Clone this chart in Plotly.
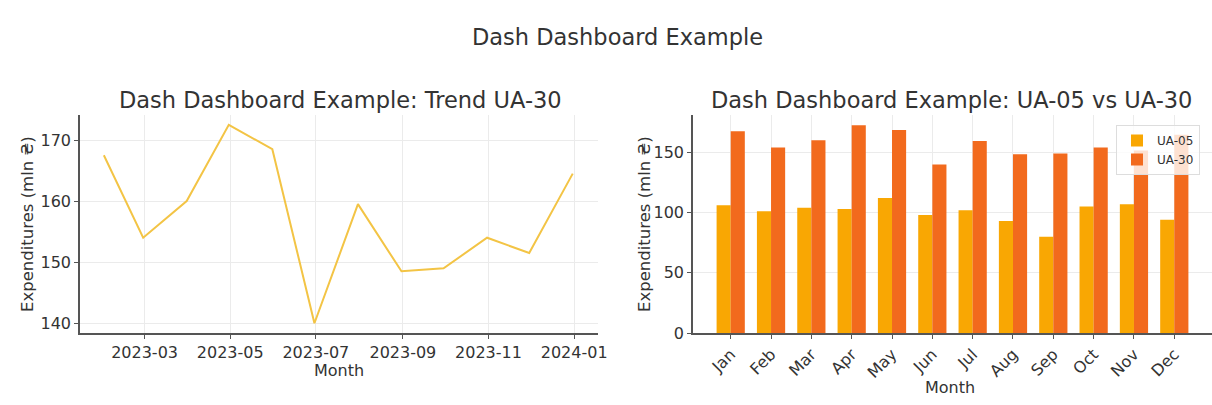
import plotly.graph_objects as go

# ---- data ----
months = ["Jan", "Feb", "Mar", "Apr", "May", "Jun", "Jul", "Aug", "Sep", "Oct", "Nov", "Dec"]
dates = ["2023-01-31", "2023-02-28", "2023-03-31", "2023-04-30", "2023-05-31", "2023-06-30",
         "2023-07-31", "2023-08-31", "2023-09-30", "2023-10-31", "2023-11-30", "2023-12-31"]
ua30 = [167.5, 154.0, 160.0, 172.5, 168.5, 140.0, 159.5, 148.5, 149.0, 154.0, 151.5, 164.5]
ua05 = [106, 101, 104, 103, 112, 98, 102, 93, 80, 105, 107, 94]
date_ticks = ["2023-03-01", "2023-05-01", "2023-07-01", "2023-09-01", "2023-11-01", "2024-01-01"]
line_yticks = [140, 150, 160, 170]
bar_yticks = [0, 50, 100, 150]

W, H = 1212, 405
FONT = "DejaVu Sans"
TXT = "#333333"
AX = "#555555"
GRID = "#ebebeb"

def px(x):
    return x / W

def py(y):
    return 1 - y / H

fig = go.Figure()

fig.add_trace(go.Scatter(
    x=dates, y=ua30, mode="lines", line=dict(color="#F3C445", width=2),
    xaxis="x", yaxis="y", showlegend=False, name="UA-30"))

fig.add_trace(go.Bar(x=months, y=ua05, name="UA-05", marker_color="#F9A703",
                     marker_line_width=0, xaxis="x2", yaxis="y2"))
fig.add_trace(go.Bar(x=months, y=ua30, name="UA-30", marker_color="#F26A1D",
                     marker_line_width=0, xaxis="x2", yaxis="y2"))

axis_common = dict(
    showline=True, linecolor=AX, linewidth=1.5, ticks="outside", ticklen=4,
    tickcolor=AX, tickwidth=1, showgrid=True, gridcolor=GRID, gridwidth=1,
    zeroline=False, tickfont=dict(family=FONT, size=16, color=TXT), mirror=False,
    automargin=False,
)

y_top, y_bot = 115, 333

fig.update_layout(
    width=W, height=H, autosize=False,
    margin=dict(l=0, r=0, t=0, b=0, autoexpand=False),
    paper_bgcolor="white", plot_bgcolor="white",
    font=dict(family=FONT, color=TXT),
    barmode="group", bargap=0.3, bargroupgap=0.0,
    xaxis=dict(axis_common, domain=[px(80), px(598)], anchor="y", type="date",
               range=["2023-01-14", "2024-01-18"], tickvals=date_ticks,
               tickformat="%Y-%m"),
    yaxis=dict(axis_common, domain=[py(y_bot), py(y_top)], anchor="x",
               range=[138.4, 174.1], tickvals=line_yticks),
    xaxis2=dict(axis_common, domain=[px(693), 1.0], anchor="y2",
                range=[-0.935, 11.935], tickangle=-45),
    yaxis2=dict(axis_common, domain=[py(y_bot), py(y_top)], anchor="x2",
                range=[0, 181], tickvals=bar_yticks),
    legend=dict(x=px(1200), xanchor="right", y=py(125), yanchor="top",
                bgcolor="rgba(255,255,255,0.8)", bordercolor="#dddddd", borderwidth=1,
                font=dict(family=FONT, size=12, color=TXT), tracegroupgap=2),
)

def label(text, x, y, size, angle=0):
    return dict(text=text, x=px(x), y=py(y), xref="paper", yref="paper",
                xanchor="center", yanchor="middle", showarrow=False, textangle=angle,
                font=dict(family=FONT, size=size, color=TXT))

ann = [
    label("Dash Dashboard Example", 617, 37, 22.5),
    label("Dash Dashboard Example: Trend UA-30", 340, 100, 22.5),
    label("Dash Dashboard Example: UA-05 vs UA-30", 951, 100, 22.5),
    label("Month", 339, 370, 16),
    label("Month", 950, 387, 16),
    label("Expenditures (mln ₴)", 28, 224, 16.5, -90),
    label("Expenditures (mln ₴)", 645, 224, 16.5, -90),
]
fig.update_layout(annotations=ann)

fig.write_html("out.html", config={"displayModeBar": False},
               post_script="document.body.style.margin='0px';")
